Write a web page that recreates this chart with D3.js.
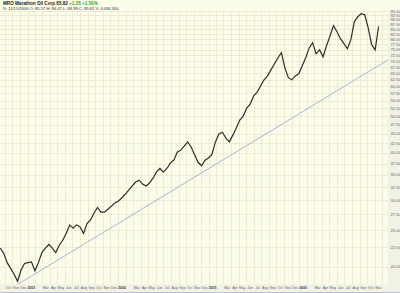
<!DOCTYPE html>
<html>
<head>
<meta charset="utf-8">
<script src="https://cdn.jsdelivr.net/npm/d3@7"></script>
<style>
  body { margin: 0; background: #fff; }
  svg { display: block; font-family: "Liberation Sans", Arial, sans-serif; }
</style>
</head>
<body>
<svg id="chart" width="400" height="293"></svg>
<script>
// MRO closes, one reading every two weeks starting from startDate
const startDate = '2002-09-13';
const closes = [
  22.4, 21.7, 20.5, 19.8, 19.1, 18.3, 19.6, 20.4, 20.5, 20.6,
  19.5, 20.5, 21.8, 22.4, 22.9, 22.4, 21.8, 22.8, 23.5, 24.5,
  25.8, 25.3, 25.8, 25.5, 24.5, 26.0, 26.6, 27.7, 28.7, 27.9,
  27.9, 28.4, 28.9, 29.5, 29.8, 30.4, 31.1, 31.9, 32.7, 33.5,
  33.9, 33.1, 32.7, 33.3, 34.3, 35.6, 36.4, 35.6, 36.4, 37.6,
  38.3, 40.2, 40.7, 41.7, 42.8, 41.5, 39.5, 37.8, 37.0, 38.3,
  38.8, 39.7, 42.8, 44.9, 45.4, 43.8, 42.8, 44.6, 46.6, 48.9,
  50.1, 52.6, 53.9, 56.7, 58.0, 60.2, 62.5, 64.0, 66.4, 68.9,
  71.5, 73.7, 67.2, 63.3, 62.5, 64.0, 64.8, 68.1, 71.5, 75.9,
  78.3, 73.2, 75.0, 71.9, 76.9, 81.7, 86.9, 83.8, 80.3, 77.9,
  75.5, 79.8, 89.0, 91.8, 93.5, 92.9, 85.8, 77.4, 75.0, 86.5
];
const trendDates = ['2002-11-19', '2006-12-24'];
const trendPrices = [17.9, 70.5];
const priceTicks = [20, 22.5, 25, 27.5, 30, 32.5, 35, 37.5, 40, 42.5, 45, 47.5, 50,
  52.5, 55, 57.5, 60, 62.5, 65, 67.5, 70, 72.5, 75, 77.5, 80, 82.5, 85, 87.5, 90, 92.5, 95];
const headerName = 'MRO Marathon Oil Corp';
const headerLast = '85.82';
const headerChange = '+1.26  +1.50%';
const headerInfo = 'D: 11/15/2006  O: 85.57  H: 86.47  L: 84.99  C: 85.82  V: 6,094,300';

const W = 400, H = 293;
const plot = {left: 0, right: 388, top: 11, bottom: 284};

const parse = d3.timeParse('%Y-%m-%d');
const t0 = parse(startDate);
const series = closes.map((c, i) => ({date: d3.timeDay.offset(t0, i * 14), close: c}));

const x = d3.scaleTime()
  .domain([new Date(2002, 9, 1), new Date(2006, 10, 1)])
  .range([4.7, 374.65]);
const y = d3.scaleLog()
  .domain([20, 95])
  .range([266.7, 11.1]);

const svg = d3.select('#chart');

svg.append('rect').attr('width', W).attr('height', H).attr('fill', '#f1f1e4');
svg.append('rect')
  .attr('x', plot.left).attr('y', plot.top)
  .attr('width', plot.right - plot.left).attr('height', plot.bottom - plot.top)
  .attr('fill', '#fcfcea');
svg.append('rect').attr('x', 0).attr('y', 0).attr('width', W).attr('height', plot.top).attr('fill', '#fcfcea');

svg.append('defs').append('clipPath').attr('id', 'clip')
  .append('rect')
  .attr('x', plot.left).attr('y', plot.top)
  .attr('width', plot.right - plot.left).attr('height', plot.bottom - plot.top);

// grid
const months = d3.timeMonth.range(x.invert(plot.left), x.invert(plot.right));
const grid = svg.append('g').attr('stroke', '#e9e7cd').attr('stroke-width', 0.8);
grid.selectAll('line.v').data(months).join('line')
  .attr('x1', d => Math.round(x(d)) + 0.5).attr('x2', d => Math.round(x(d)) + 0.5)
  .attr('y1', plot.top).attr('y2', plot.bottom);
grid.selectAll('line.h').data(priceTicks).join('line')
  .attr('x1', plot.left).attr('x2', plot.right)
  .attr('y1', d => Math.round(y(d)) + 0.5).attr('y2', d => Math.round(y(d)) + 0.5);

// trendline
svg.append('line')
  .attr('clip-path', 'url(#clip)')
  .attr('x1', x(parse(trendDates[0]))).attr('y1', y(trendPrices[0]))
  .attr('x2', x(parse(trendDates[1]))).attr('y2', y(trendPrices[1]))
  .attr('stroke', '#a3abd0').attr('stroke-width', 0.9);

// price
svg.append('path')
  .datum(series)
  .attr('clip-path', 'url(#clip)')
  .attr('fill', 'none')
  .attr('stroke', '#2e2e2e')
  .attr('stroke-width', 1.2)
  .attr('d', d3.line().x(d => x(d.date)).y(d => y(d.close)));

// right axis
svg.append('g').selectAll('text').data(priceTicks).join('text')
  .attr('x', plot.right + 2.5)
  .attr('y', d => y(d) + 1.5)
  .attr('font-size', 4.2)
  .attr('fill', '#666')
  .text(d => d.toFixed(2));

// bottom axis
const labelMonths = months.filter(d => d.getMonth() !== 1 && x(d) + 9 < plot.right);
svg.append('g').selectAll('text').data(labelMonths).join('text')
  .attr('x', d => x(d) + 3.8)
  .attr('y', plot.bottom + 4.8)
  .attr('text-anchor', 'middle')
  .attr('font-size', 3.5)
  .attr('font-weight', d => d.getMonth() === 0 ? 'bold' : 'normal')
  .attr('fill', d => d.getMonth() === 0 ? '#444' : '#666')
  .text(d => d.getMonth() === 0 ? d3.timeFormat('%Y')(d) : d3.timeFormat('%b')(d));

svg.append('line')
  .attr('x1', 0).attr('x2', W).attr('y1', H - 0.5).attr('y2', H - 0.5)
  .attr('stroke', '#b8c4dc').attr('stroke-width', 1);

// header
const head = svg.append('text').attr('x', 3).attr('y', 5.2).attr('font-size', 4.6).attr('font-weight', 'bold');
head.append('tspan').attr('fill', '#222').text(headerName + '  ' + headerLast + '  ');
head.append('tspan').attr('fill', '#2aa52a').text(headerChange);
svg.append('text').attr('x', 3).attr('y', 10.2).attr('font-size', 4.1).attr('fill', '#333')
  .text(headerInfo);
</script>
</body>
</html>
